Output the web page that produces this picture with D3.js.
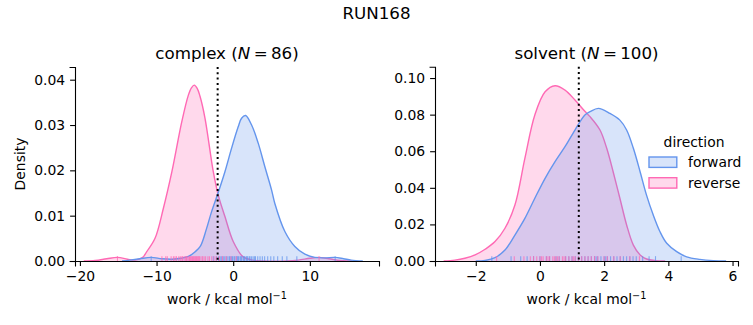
<!DOCTYPE html>
<html>
<head>
<meta charset="utf-8">
<script src="https://cdn.jsdelivr.net/npm/d3@7"></script>
<style>
  body { margin: 0; background: #fff; }
  svg { font-family: "DejaVu Sans", sans-serif; }
  .tick text { font-size: 13.9px; fill: #000; }
</style>
</head>
<body>
<svg width="753" height="325"></svg>
<script>

// density curves: [work, density]
var complexForward = [[-14.5, 0], [-13.5, 0.0002], [-12.2, 0.0005], [-10.7, 0.0008], [-9.3, 0.0005], [-8.0, 0.0004],
	[-6.8, 0.0006], [-5.85, 0.001], [-5.0, 0.002], [-4.3, 0.0032], [-3.47, 0.0072], [-2.82, 0.0109], [-1.96, 0.0151],
	[-1.08, 0.0197], [-0.21, 0.0249], [0.65, 0.0296], [1.09, 0.0315], [1.62, 0.0321], [2.4, 0.030], [3.26, 0.026],
	[4.13, 0.0208], [5.0, 0.0157], [5.43, 0.0127], [6.74, 0.0065], [8.04, 0.0032], [9.35, 0.0015], [10.65, 0.0008],
	[11.96, 0.0007], [13.26, 0.0008], [14.4, 0.0005], [15.4, 0.0002], [16.9, 0]];
var complexReverse = [[-19.5, 0], [-18, 0.0001], [-16.5, 0.0005], [-15.1, 0.0008], [-13.8, 0.0004], [-12.8, 0.0002],
	[-11.8, 0.0008], [-11.3, 0.002], [-10.2, 0.005], [-9.1, 0.0117], [-8.0, 0.0197], [-6.7, 0.0308], [-5.85, 0.0366],
	[-5.45, 0.0382], [-5.08, 0.0388], [-4.7, 0.0381], [-4.34, 0.0364], [-3.69, 0.0316], [-2.6, 0.0197], [-1.96, 0.0146],
	[-1.08, 0.0098], [0, 0.0043], [1.3, 0.0009], [2.5, 0.0002], [4, 0], [7, 0], [8.5, 0.0002], [10, 0.0006],
	[11.2, 0.0008], [12.5, 0.0005], [14, 0.0001], [15.5, 0]];
var solventForward = [[-2.0, 0], [-1.71, 0.0003], [-1.4, 0.0018], [-1.09, 0.006], [-0.78, 0.0142], [-0.47, 0.0233],
	[-0.16, 0.0343], [0.16, 0.0452], [0.47, 0.0543], [0.78, 0.0625], [1.09, 0.0716], [1.4, 0.0798], [1.56, 0.0816],
	[1.82, 0.0834], [2.18, 0.0807], [2.49, 0.077], [2.7, 0.0716], [2.91, 0.0616], [3.12, 0.0488], [3.32, 0.036],
	[3.53, 0.0251], [3.74, 0.016], [3.95, 0.0097], [4.26, 0.0051], [4.57, 0.0023], [4.98, 0.0009], [5.4, 0.0002], [5.8, 0]];
var solventReverse = [[-3.0, 0], [-2.65, 0.0005], [-2.34, 0.0015], [-2.02, 0.0033], [-1.71, 0.0064], [-1.4, 0.0106],
	[-1.09, 0.0179], [-0.78, 0.0306], [-0.47, 0.0561], [-0.16, 0.0798], [0.16, 0.0925], [0.47, 0.0958], [0.78, 0.0934],
	[1.09, 0.088], [1.4, 0.0818], [1.56, 0.0789], [1.87, 0.0716], [2.08, 0.0616], [2.28, 0.0488], [2.49, 0.0343],
	[2.7, 0.0197], [2.91, 0.0087], [3.12, 0.0033], [3.32, 0.0011], [3.6, 0.0002], [3.9, 0]];

// individual work values (rug)
var complexForwardRug = [-10.7, -2.6, -2.2, -1.9, -1.7, -1.5, -1.3, -1.1, -0.9, -0.7, -0.5, -0.4, -0.2, -0.1, 0.1,
	0.2, 0.4, 0.5, 0.6, 0.7, 0.9, 1.0, 1.1, 1.3, 1.4, 1.5, 1.7, 1.8, 1.9, 2.1, 2.2, 2.4, 2.6, 2.8, 2.9, 3.2, 3.5,
	3.8, 4.1, 4.5, 4.9, 5.3, 5.8, 6.4, 7.0, 8.3, 13.3];
var complexReverseRug = [-15.1, -9.3, -8.8, -8.6, -8.1, -7.8, -7.6, -7.4, -7.1, -6.9, -6.7, -6.6, -6.4, -6.2,
	-6.1, -6.0, -5.8, -5.7, -5.6, -5.5, -5.4, -5.3, -5.2, -5.1, -5.0, -4.9, -4.8, -4.7, -4.6, -4.5, -4.4, -4.2, -4.0,
	-3.8, -3.6, -3.3, -3.1, -2.8, -2.5, -2.2, -1.8, -1.4, -0.9, -0.3, 0.4, 11.2];
var solventForwardRug = [-1.5, -0.9, -0.6, -0.4, -0.2, 0.0, 0.2, 0.3, 0.5, 0.6, 0.8, 0.9, 1.0, 1.1, 1.2, 1.3,
	1.4, 1.5, 1.6, 1.7, 1.75, 1.8, 1.9, 2.0, 2.05, 2.1, 2.2, 2.3, 2.4, 2.5, 2.6, 2.7, 2.8, 2.9, 3.0, 3.2, 3.4, 3.6, 4.4];
var solventReverseRug = [-1.35, -0.8, -0.5, -0.3, -0.2, -0.1, 0.0, 0.05, 0.1, 0.2, 0.25, 0.3, 0.4, 0.45, 0.5,
	0.55, 0.6, 0.7, 0.75, 0.8, 0.9, 1.0, 1.05, 1.1, 1.2, 1.3, 1.4, 1.5, 1.6, 1.7, 1.8, 2.0, 2.1, 2.3, 2.5, 2.8, 3.1];

var panelNames = ["complex", "solvent"];
var panelN = [86, 100];
var meanWork = [-2.03, 1.21];   // dotted lines
var directions = ["forward", "reverse"];
var complexXTicks = [-20, -10, 0, 10];
var solventXTicks = [-2, 0, 2, 4, 6];
var complexYTicks = [0, 0.01, 0.02, 0.03, 0.04];
var solventYTicks = [0, 0.02, 0.04, 0.06, 0.08, 0.10];

var color = { forward: "#6495ed", reverse: "#ff69b4" };

var svg = d3.select("svg");

svg.append("text")
	.attr("x", 376.5).attr("y", 19)
	.attr("text-anchor", "middle")
	.style("font-size", "16.7px")
	.text("RUN168");

var panels = [
	{ name: panelNames[0], n: panelN[0], mean: meanWork[0], left: 75, right: 379, top: 67,
	  xdom: [-20.64, 19.02], ydom: [0, 0.0428], xticks: complexXTicks, yticks: complexYTicks,
	  curves: { forward: complexForward, reverse: complexReverse },
	  rugs: { forward: complexForwardRug, reverse: complexReverseRug } },
	{ name: panelNames[1], n: panelN[1], mean: meanWork[1], left: 435, right: 738, top: 66.7,
	  xdom: [-3.27, 6.17], ydom: [0, 0.1062], xticks: solventXTicks, yticks: solventYTicks,
	  curves: { forward: solventForward, reverse: solventReverse },
	  rugs: { forward: solventForwardRug, reverse: solventReverseRug } }
];
var bottom = 261;

panels.forEach(function(p, i) {
	var x = d3.scaleLinear().domain(p.xdom).range([p.left, p.right]);
	var y = d3.scaleLinear().domain(p.ydom).range([bottom, p.top]);

	var g = svg.append("g");

	var area = d3.area()
		.curve(d3.curveCatmullRom.alpha(0.5))
		.x(function(d) { return x(d[0]); })
		.y0(y(0))
		.y1(function(d) { return Math.min(y(d[1]), bottom); });
	var line = area.lineY1();

	// reverse is drawn first, forward on top
	["reverse", "forward"].forEach(function(dir) {
		g.append("path")
			.datum(p.curves[dir])
			.attr("d", area)
			.attr("fill", color[dir])
			.attr("fill-opacity", 0.25);
		g.append("path")
			.datum(p.curves[dir])
			.attr("d", line)
			.attr("fill", "none")
			.attr("stroke", color[dir])
			.attr("stroke-width", 1.4);
	});

	["forward", "reverse"].forEach(function(dir) {
		g.selectAll(".rug-" + dir)
			.data(p.rugs[dir])
			.enter().append("line")
			.attr("class", "rug-" + dir)
			.attr("x1", function(d) { return x(d); })
			.attr("x2", function(d) { return x(d); })
			.attr("y1", bottom)
			.attr("y2", bottom - 4.85)
			.attr("stroke", color[dir])
			.attr("stroke-opacity", 0.75)
			.attr("stroke-width", 1.1);
	});

	g.append("line")
		.attr("x1", x(p.mean)).attr("x2", x(p.mean))
		.attr("y1", p.top).attr("y2", bottom)
		.attr("stroke", "#000")
		.attr("stroke-width", 2)
		.attr("stroke-dasharray", "2,3.3");

	var xAxis = d3.axisBottom(x).tickValues(p.xticks).tickSizeOuter(0).tickSize(4.9).tickPadding(4.9)
		.tickFormat(d3.format("d"));
	var yAxis = d3.axisLeft(y).tickValues(p.yticks).tickSizeOuter(0).tickSize(4.9).tickPadding(4.9)
		.tickFormat(d3.format(".2f"));

	var xa = g.append("g")
		.attr("transform", "translate(0," + bottom + ")")
		.call(xAxis);
	var ya = g.append("g")
		.attr("transform", "translate(" + p.left + ",0)")
		.call(yAxis);
	[xa, ya].forEach(function(a) {
		a.select(".domain").attr("stroke-width", 1.1).attr("stroke", "#000")
			.attr("stroke-linecap", "square");
		a.selectAll(".tick line").attr("stroke-width", 1.1);
		a.attr("font-family", null).attr("font-size", null);
	});

	// title with italic N
	var cx = (p.left + p.right) / 2;
	var title = g.append("text")
		.attr("x", cx).attr("y", 59)
		.attr("text-anchor", "middle")
		.style("font-size", "16.7px");
	title.append("tspan").text(p.name + " (");
	title.append("tspan").style("font-style", "italic").text("N");
	title.append("tspan").text("\u2009=\u2009" + p.n + ")");

	var xl = g.append("text")
		.attr("x", cx).attr("y", 304)
		.attr("text-anchor", "middle")
		.style("font-size", "13.9px");
	xl.append("tspan").text("work / kcal mol");
	xl.append("tspan").attr("dy", -5).style("font-size", "9.7px").text("\u22121");

	if (i == 0) {
		svg.append("text")
			.attr("transform", "translate(25," + ((p.top + bottom) / 2) + ") rotate(-90)")
			.attr("text-anchor", "middle")
			.style("font-size", "13.9px")
			.text("Density");
	}
});

// legend
var legend = svg.append("g");
legend.append("text")
	.attr("x", 694).attr("y", 146.5)
	.attr("text-anchor", "middle")
	.style("font-size", "13.9px")
	.text("direction");

var item = legend.selectAll(".item")
	.data(directions)
	.enter().append("g")
	.attr("class", "item")
	.attr("transform", function(d, i) { return "translate(649," + (157 + i * 20.7) + ")"; });
item.append("rect")
	.attr("width", 27.8).attr("height", 10.4)
	.attr("fill", function(d) { return d3.color(color[d]).copy({ opacity: 0.25 }); })
	.attr("stroke", function(d) { return color[d]; })
	.attr("stroke-width", 1.4);
item.append("text")
	.attr("x", 39).attr("y", 10)
	.style("font-size", "13.9px")
	.text(function(d) { return d; });

</script>
</body>
</html>
